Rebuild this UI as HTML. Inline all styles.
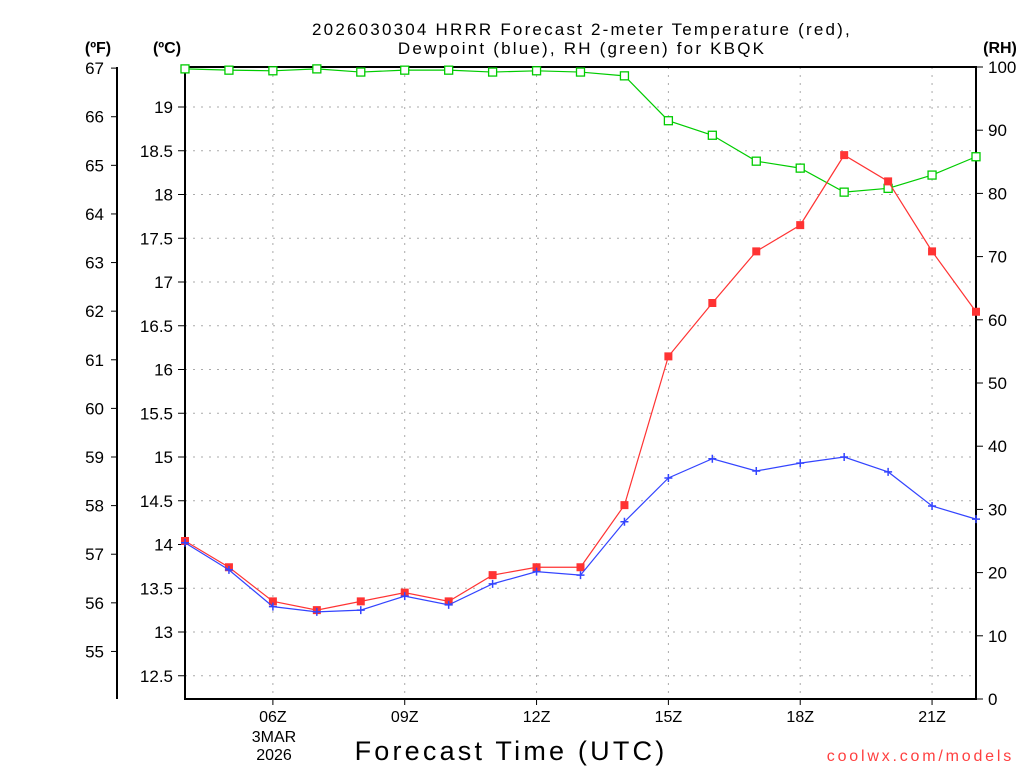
<!DOCTYPE html>
<html><head><meta charset="utf-8"><style>
body{margin:0;background:#fff;}
svg text{font-family:"Liberation Sans","DejaVu Sans",sans-serif;}
</style></head><body>
<svg id="chart" width="1024" height="768" xmlns="http://www.w3.org/2000/svg">
<rect width="1024" height="768" fill="#fff"/>
<g id="grid"></g>
<g id="axes"></g>
<g id="series"></g>
<text x="582" y="35" text-anchor="middle" font-size="17" letter-spacing="2.2" fill="#000">2026030304 HRRR Forecast 2-meter Temperature (red),</text>
<text x="582" y="54" text-anchor="middle" font-size="17" letter-spacing="2.2" fill="#000">Dewpoint (blue), RH (green) for KBQK</text>
<text x="98" y="53" text-anchor="middle" font-size="16" font-weight="bold">(ºF)</text>
<text x="167" y="53" text-anchor="middle" font-size="16" font-weight="bold">(ºC)</text>
<text x="1000" y="53" text-anchor="middle" font-size="16" font-weight="bold">(RH)</text>
<text x="511" y="760" text-anchor="middle" font-size="27" letter-spacing="3.2">Forecast Time (UTC)</text>
<text x="274" y="742" text-anchor="middle" font-size="16">3MAR</text>
<text x="274" y="760" text-anchor="middle" font-size="16">2026</text>
<text x="1014" y="761" text-anchor="end" font-size="16" fill="#ff4040" letter-spacing="2.8">coolwx.com/models</text>
</svg>
<script>
const hours=[4,5,6,7,8,9,10,11,12,13,14,15,16,17,18,19,20,21,22];
const tempC=[14.04,13.74,13.35,13.25,13.35,13.45,13.35,13.65,13.74,13.74,14.45,16.15,16.76,17.35,17.65,18.45,18.15,17.35,16.66];
const dewC=[14.02,13.71,13.29,13.23,13.25,13.41,13.31,13.55,13.69,13.65,14.26,14.76,14.98,14.84,14.93,15.0,14.83,14.44,14.29];
const rh=[99.7,99.5,99.4,99.7,99.2,99.5,99.5,99.2,99.4,99.2,98.6,91.5,89.2,85.1,84.0,80.2,80.8,82.9,85.8];
const cTicks=[12.5,13,13.5,14,14.5,15,15.5,16,16.5,17,17.5,18,18.5,19];
const fTicks=[55,56,57,58,59,60,61,62,63,64,65,66,67];
const rhTicks=[0,10,20,30,40,50,60,70,80,90,100];
const xTickHours=[6,9,12,15,18,21];
const xTickLabels=["06Z","09Z","12Z","15Z","18Z","21Z"];
const L=185,R=976,T=67,B=699;
const x=h=>L+(h-4)*(R-L)/18;
const yC=c=>632-(c-13)*87.5;
const yF=f=>yC((f-32)*5/9);
const yRH=v=>B-v*(B-T)/100;
const NS="http://www.w3.org/2000/svg";
function mk(tag,attrs,parent){const e=document.createElementNS(NS,tag);for(const k in attrs)e.setAttribute(k,attrs[k]);parent.appendChild(e);return e;}
const grid=document.getElementById('grid'),axes=document.getElementById('axes'),ser=document.getElementById('series');
cTicks.forEach(c=>{const y=yC(c);
 const g=mk('line',{x1:L,x2:R,y1:y,y2:y,stroke:'#aaa','stroke-dasharray':'2,6'},grid);
 
 mk('line',{x1:L-7,x2:L,y1:y,y2:y,stroke:'#000'},axes);
 const t=mk('text',{x:L-12,y:y+6,'text-anchor':'end','font-size':'17',fill:'#000'},axes);t.textContent=c;
 });
xTickHours.forEach((h,i)=>{const xx=x(h);
 const g=mk('line',{x1:xx,x2:xx,y1:T,y2:B,stroke:'#aaa','stroke-dasharray':'2,6'},grid);
 
 mk('line',{x1:xx,x2:xx,y1:B,y2:B+6,stroke:'#000'},axes);
 const t=mk('text',{x:xx,y:722,'text-anchor':'middle','font-size':'16'},axes);t.textContent=xTickLabels[i];
 });
fTicks.forEach(f=>{const y=yF(f);
 mk('line',{x1:111,x2:117,y1:y,y2:y,stroke:'#000'},axes);
 const t=mk('text',{x:104,y:y+6,'text-anchor':'end','font-size':'17'},axes);t.textContent=f;
 });
rhTicks.forEach(v=>{const y=yRH(v);
 mk('line',{x1:R,x2:R+7,y1:y,y2:y,stroke:'#000'},axes);
 const t=mk('text',{x:988,y:y+6,'font-size':'17'},axes);t.textContent=v;
 });
mk('line',{x1:117,x2:117,y1:T,y2:B,stroke:'#000','stroke-width':2},axes);
mk('rect',{x:L,y:T,width:R-L,height:B-T,fill:'none',stroke:'#000','stroke-width':2},axes);
function series(vals,yf,color,name){
 const pts=vals.map((v,i)=>x(hours[i])+','+yf(v)).join(' ');
 const p=mk('polyline',{points:pts,fill:'none',stroke:color,'stroke-width':1.2},ser);
 
 return vals.map((v,i)=>[x(hours[i]),yf(v)]);}
series(rh,yRH,'#00cc00','rh').forEach(([a,b])=>{const m=mk('rect',{x:a-4,y:b-4,width:8,height:8,fill:'#fff',stroke:'#00cc00','stroke-width':1.3},ser);
 });
series(tempC,yC,'#ff3333','temperature').forEach(([a,b])=>{const m=mk('rect',{x:a-4,y:b-4,width:8,height:8,fill:'#ff3333'},ser);
 });
series(dewC,yC,'#3344ff','dewpoint').forEach(([a,b])=>{const m=mk('path',{d:`M${a-4},${b}H${a+4}M${a},${b-4}V${b+4}`,stroke:'#3344ff','stroke-width':1.5},ser);
 });
</script>
</body></html>
